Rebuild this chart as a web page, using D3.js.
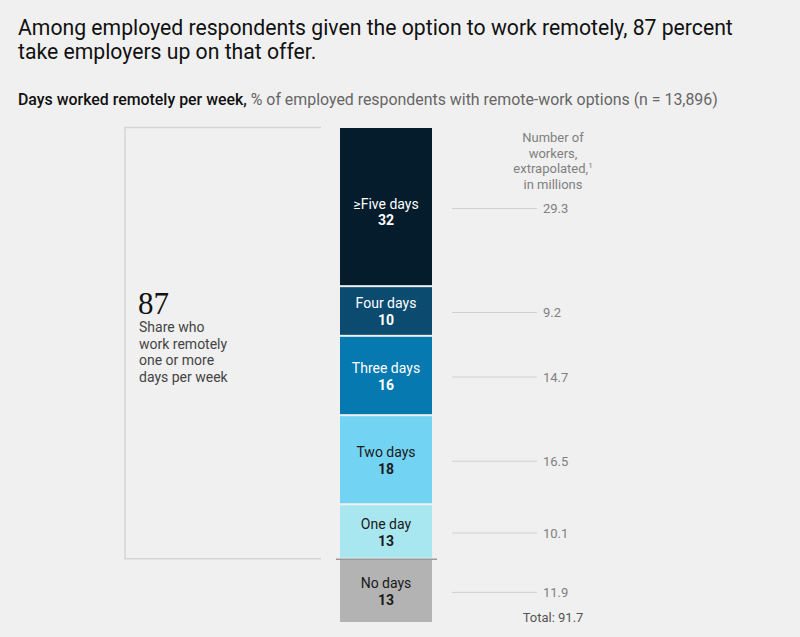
<!DOCTYPE html>
<html>
<head>
<meta charset="utf-8">
<script src="https://cdn.jsdelivr.net/npm/d3@7"></script>
<style>
  html, body { margin: 0; padding: 0; background: #f0f0f0; }
  svg { display: block; }
</style>
</head>
<body>
<svg id="chart" width="800" height="637"></svg>
<script>
// ---- Data ----
const categories = ["≥Five days", "Four days", "Three days", "Two days", "One day", "No days"];
const shares = [32, 10, 16, 18, 13, 13];               // % of respondents
const workers = [29.3, 9.2, 14.7, 16.5, 10.1, 11.9];   // millions, extrapolated
const remoteShare = 87;
const workerHeader = ["Number of", "workers,", "extrapolated,", "in millions"];
const shareNote = ["Share who", "work remotely", "one or more", "days per week"];

// ---- Styles ----
const fills = ["#051c2c", "#0b4b70", "#0679b1", "#72d3f2", "#a9e7f0", "#b3b3b3"];
const textFills = ["#ffffff", "#ffffff", "#ffffff", "#1a1a1a", "#1a1a1a", "#1a1a1a"];
const font = "Roboto, 'Liberation Sans', Arial, sans-serif";

const svg = d3.select("#chart");

// Title
const title = svg.append("text").attr("x", 18).attr("font-family", font)
  .attr("font-size", 21.2).attr("fill", "#111");
title.append("tspan").attr("x", 18).attr("y", 35)
  .text("Among employed respondents given the option to work remotely, 87 percent");
title.append("tspan").attr("x", 18).attr("y", 59)
  .text("take employers up on that offer.");

// Subtitle
const sub = svg.append("text").attr("x", 18).attr("y", 105).attr("font-family", font)
  .attr("font-size", 15.9);
sub.append("tspan").attr("font-weight", 500).attr("fill", "#111").text("Days worked remotely per week,");
sub.append("tspan").attr("fill", "#666").text(" % of employed respondents with remote-work options (n = 13,896)");

// Build stacked data
let cum = 0;
const rows = categories.map((c, i) => {
  const r = { cat: c, share: shares[i], workers: workers[i], y0: cum, y1: cum + workers[i], i };
  cum += workers[i];
  return r;
});
const total = d3.sum(workers);

const y = d3.scaleLinear().domain([0, total]).range([128, 623]);
const x = d3.scaleBand().domain(["bar"]).range([340, 432]).padding(0);
const color = d3.scaleOrdinal().domain(categories).range(fills);
const tcolor = d3.scaleOrdinal().domain(categories).range(textFills);

// Bracket for the 87%
const remoteEnd = y(d3.sum(workers.slice(0, 5)));
svg.append("path")
  .attr("d", `M321,${y(0) - 0.5} H125 V${remoteEnd} H321`)
  .attr("fill", "none").attr("stroke", "#d4d4d4").attr("stroke-width", 1.5);

// Bars
const g = svg.append("g");
g.selectAll("rect").data(rows).join("rect")
  .attr("x", x("bar"))
  .attr("width", x.bandwidth())
  .attr("y", d => y(d.y0) + (d.i === 0 ? 0 : 1))
  .attr("height", d => y(d.y1) - y(d.y0) - (d.i === 0 ? 1 : 2))
  .attr("fill", d => color(d.cat));

// Divider between remote and no-remote
svg.append("line")
  .attr("x1", 336).attr("x2", 437)
  .attr("y1", remoteEnd + 0.5).attr("y2", remoteEnd + 0.5)
  .attr("stroke", "#999").attr("stroke-width", 1.5);

// Segment labels
const lab = g.selectAll("text.seg").data(rows).join("text")
  .attr("class", "seg")
  .attr("text-anchor", "middle")
  .attr("font-family", font)
  .attr("font-size", 14)
  .attr("fill", d => tcolor(d.cat));
lab.append("tspan")
  .attr("x", x("bar") + x.bandwidth() / 2)
  .attr("y", d => (y(d.y0) + y(d.y1)) / 2 - 3 + (d.i === 0 ? 5 : 0))
  .text(d => d.cat);
lab.append("tspan")
  .attr("x", x("bar") + x.bandwidth() / 2)
  .attr("y", d => (y(d.y0) + y(d.y1)) / 2 + 14 + (d.i === 0 ? 4 : 0))
  .attr("font-weight", 700)
  .text(d => d.share);

// Connector lines & worker values
const conn = svg.append("g");
conn.selectAll("line").data(rows).join("line")
  .attr("x1", 452).attr("x2", 537)
  .attr("y1", d => (y(d.y0) + y(d.y1)) / 2 + 1.5)
  .attr("y2", d => (y(d.y0) + y(d.y1)) / 2 + 1.5)
  .attr("stroke", "#d0d0d0").attr("stroke-width", 1);
conn.selectAll("text").data(rows).join("text")
  .attr("x", 543)
  .attr("y", d => (y(d.y0) + y(d.y1)) / 2 + 6)
  .attr("font-family", font).attr("font-size", 13).attr("fill", "#808080")
  .text(d => d3.format(".1f")(d.workers));

// Worker header
const hdr = svg.append("text").attr("text-anchor", "middle").attr("font-family", font)
  .attr("font-size", 13).attr("fill", "#808080");
workerHeader.forEach((t, i) => {
  hdr.append("tspan").attr("x", 553).attr("y", 142 + i * 15.5).text(t);
  if (i === 2) {
    hdr.append("tspan").attr("font-size", 8).attr("dy", -5).text("1");
  }
});

// Total
svg.append("text").attr("x", 553).attr("y", 622).attr("text-anchor", "middle")
  .attr("font-family", font).attr("font-size", 13).attr("fill", "#555")
  .text("Total: " + d3.format(".1f")(total));

// 87 annotation
svg.append("text").attr("x", 138).attr("y", 314)
  .attr("font-family", "'Liberation Serif', 'DejaVu Serif', serif")
  .attr("font-size", 31).attr("fill", "#111").text(remoteShare);
const note = svg.append("text").attr("font-family", font).attr("font-size", 14).attr("fill", "#444");
shareNote.forEach((t, i) => {
  note.append("tspan").attr("x", 139).attr("y", 332 + i * 16.5).text(t);
});
</script>
</body>
</html>
